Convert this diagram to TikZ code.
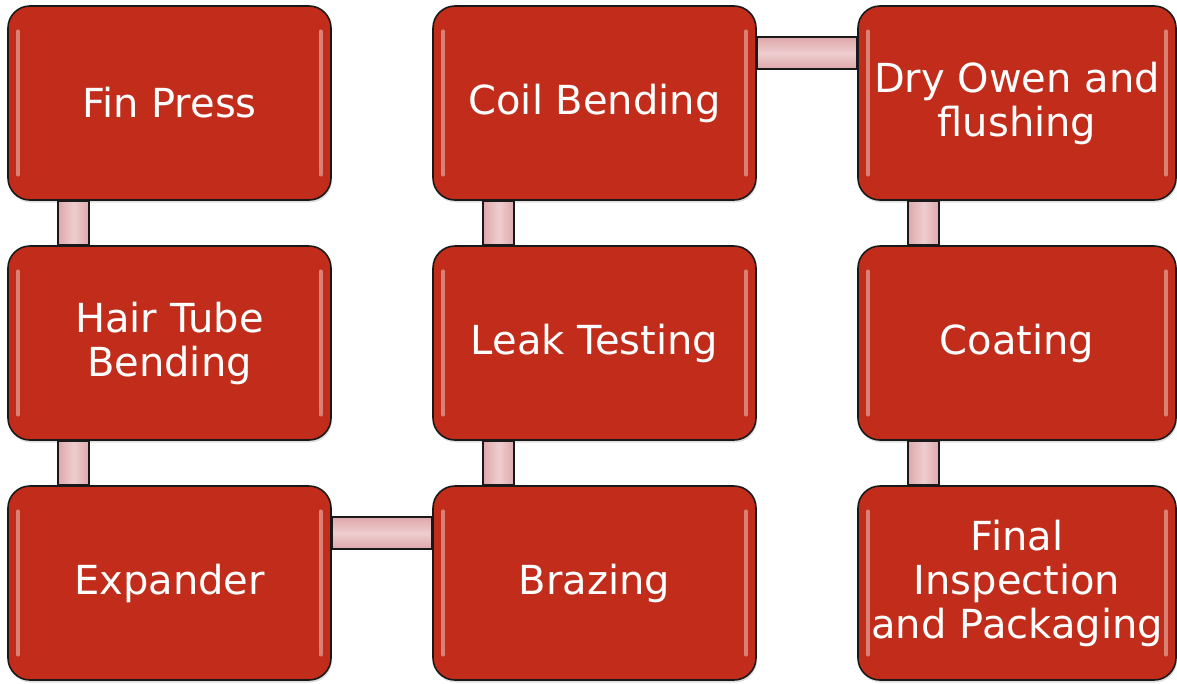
\documentclass[tikz,border=0pt]{standalone}
\usepackage{fontspec}
\setmainfont{DejaVu Sans}
\usetikzlibrary{shadows}
\definecolor{boxred}{RGB}{193,45,26}
\definecolor{edgered}{RGB}{232,112,92}
\definecolor{connpink}{RGB}{222,168,171}
\definecolor{connlight}{RGB}{238,205,207}
\pgfdeclareverticalshading{boxshade}{100bp}{%
  color(0bp)=(edgered); color(2.5bp)=(boxred!75!edgered); color(6bp)=(boxred);
  color(95bp)=(boxred); color(98bp)=(boxred!80!edgered); color(100bp)=(boxred!65!edgered)}
\tikzset{
  stage/.style={draw=black!90, line width=1.6pt, rounded corners=22pt,
    shading=boxshade, minimum height=194pt, inner sep=0pt,
    text=white, align=center, font=\fontsize{40}{44}\selectfont,
    drop shadow={opacity=0.25, shadow xshift=1pt, shadow yshift=-2.5pt}},
  conn/.style={draw=black!90, line width=1.5pt, fill=connpink},
  connv/.style={conn, left color=connpink, right color=connpink, middle color=connlight},
  connh/.style={conn, top color=connpink, bottom color=connpink, middle color=connlight},
  hl/.style={line width=3.5pt, line cap=round, draw=white, opacity=0.4}
}
\begin{document}
\begin{tikzpicture}[x=1pt,y=-1pt]
\useasboundingbox (0,0) rectangle (1177,683);
% boxes
\node[stage, minimum width=323pt] (fin)   at (169.5,103) {Fin Press};
\node[stage, minimum width=323pt] (hair)  at (169.5,343) {Hair Tube\\Bending};
\node[stage, minimum width=323pt] (exp)   at (169.5,583) {Expander};
\node[stage, minimum width=323pt] (coil)  at (594.5,103) {Coil Bending};
\node[stage, minimum width=323pt] (leak)  at (594.5,343) {Leak Testing};
\node[stage, minimum width=323pt] (braz)  at (594.5,583) {Brazing};
\node[stage, minimum width=318pt] (dry)   at (1017,103) {Dry Owen and\\flushing};
\node[stage, minimum width=318pt] (coat)  at (1017,343) {Coating};
\node[stage, minimum width=318pt, text width=318pt] (final) at (1017,583) {Final\\Inspection\\and Packaging};
% connectors
\draw[connv] ([xshift=51pt]fin.south west) rectangle ([xshift=82pt]hair.north west);
\draw[connv] ([xshift=51pt]hair.south west) rectangle ([xshift=82pt]exp.north west);
\draw[connh] ([yshift=-32pt]exp.north east) rectangle ([yshift=-64pt]braz.north west);
\draw[connv] ([xshift=51pt]braz.north west) rectangle ([xshift=82pt]leak.south west);
\draw[connv] ([xshift=51pt]leak.north west) rectangle ([xshift=82pt]coil.south west);
\draw[connh] ([yshift=-32pt]coil.north east) rectangle ([yshift=-64pt]dry.north west);
\draw[connv] ([xshift=51pt]dry.south west) rectangle ([xshift=82pt]coat.north west);
\draw[connv] ([xshift=51pt]coat.south west) rectangle ([xshift=82pt]final.north west);
% highlights
\foreach \n in {fin,hair,exp,coil,leak,braz,dry,coat,final}{
  \draw[hl] ([xshift=11pt,yshift=-26pt]\n.north west) -- ([xshift=11pt,yshift=26pt]\n.south west);
  \draw[hl] ([xshift=-11pt,yshift=-26pt]\n.north east) -- ([xshift=-11pt,yshift=26pt]\n.south east);
}
\end{tikzpicture}
\end{document}
